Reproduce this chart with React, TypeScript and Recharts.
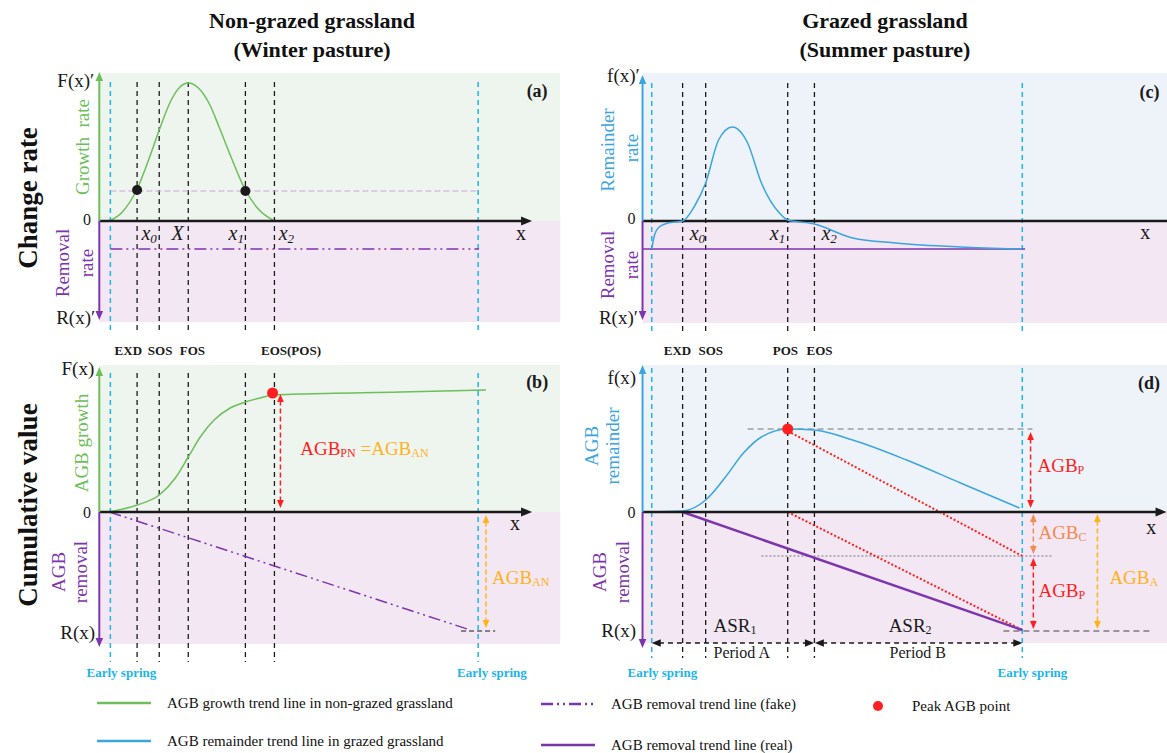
import React from 'react';
import {
  ComposedChart,
  Line,
  XAxis,
  YAxis,
  ReferenceArea,
  ReferenceLine,
  ReferenceDot,
} from 'recharts';

const SERIF = "'Times New Roman', 'Liberation Serif', 'DejaVu Serif', serif";

const GREEN = '#6cbf5a';
const BLUE = '#3aa5de';
const PURPLE = '#7d35ad';
const CYAN = '#1cb5ec';
const RED = '#ff1f1f';
const GOLD = '#ffb21c';
const CORAL = '#f5894f';
const INK = '#1a1a1a';
const BG_GREEN = '#eef4ee';
const BG_BLUE = '#edf3f9';
const BG_PURPLE = '#f3e7f3';

// season axis (0 = start of the season axis), dates of the phenological events
const winterSpring = [2.4, 82.2];
const winterDates = [8.2, 13.0, 19.3, 31.7, 38.0];
const summerSpring = [2.0, 82.4];
const summerDates = [8.7, 13.7, 31.5, 37.3];

const winterPhenology = ['EXD', 'SOS', 'FOS', 'EOS(POS)'];
const winterPhenologyAt = [6.3, 13.2, 20.2, 41.6];
const summerPhenology = ['EXD', 'SOS', 'POS', 'EOS'];
const summerPhenologyAt = [7.6, 14.8, 31.0, 38.4];

const winterRoots = [['x', '0'], ['X', ''], ['x', '1'], ['x', '2']];
const winterRootsAt = [10.8, 17.0, 29.7, 40.6];
const summerRoots = [['x', '0'], ['x', '1'], ['x', '2']];
const summerRootsAt = [11.9, 29.3, 40.5];

// (a) change rate, non-grazed
const growthRate = [
  { x: 2.2, y: 0 }, { x: 5, y: 0.9 }, { x: 8.2, y: 3.2 }, { x: 11, y: 6.5 },
  { x: 13, y: 9.1 }, { x: 15.5, y: 12.0 }, { x: 17.5, y: 13.4 }, { x: 19.3, y: 13.8 },
  { x: 21.5, y: 13.3 }, { x: 24, y: 11.6 }, { x: 26, y: 9.4 }, { x: 28.5, y: 6.5 },
  { x: 31.7, y: 3.1 }, { x: 34.5, y: 1.2 }, { x: 38, y: 0 },
];
const removalRateFake = [{ x: 2.4, y: -2.8 }, { x: 82.4, y: -2.8 }];
const growthThreshold = 3.0;
const thresholdDots = [{ x: 8.2, y: 3.1 }, { x: 31.7, y: 3.0 }];

// (b) cumulative, non-grazed
const agbGrowth = [
  { x: 2.2, y: 0 }, { x: 8.2, y: 0.7 }, { x: 13, y: 1.7 }, { x: 16.5, y: 3.4 },
  { x: 19.3, y: 5.5 }, { x: 21.9, y: 7.5 }, { x: 24.9, y: 9.2 }, { x: 28.4, y: 10.4 },
  { x: 31.7, y: 11.0 }, { x: 34.9, y: 11.4 }, { x: 37.7, y: 11.7 }, { x: 43.6, y: 11.8 },
  { x: 65.3, y: 12.0 }, { x: 83.9, y: 12.2 },
];
const agbRemovalFake = [{ x: 2.2, y: 0 }, { x: 80.5, y: -11.8 }];
const peakWinter = [{ x: 37.6, y: 11.9 }];

// (c) change rate, grazed
const remainderRate = [
  { x: 2.0, y: -2.8 }, { x: 2.6, y: -1.4 }, { x: 3.6, y: -0.6 }, { x: 5.2, y: -0.25 },
  { x: 7.0, y: -0.1 }, { x: 8.7, y: 0 }, { x: 11.3, y: 1.5 }, { x: 13.7, y: 3.8 },
  { x: 16.5, y: 8.1 }, { x: 19.5, y: 9.4 }, { x: 22.8, y: 7.8 }, { x: 25.8, y: 3.8 },
  { x: 29.7, y: 0.8 }, { x: 31.5, y: 0.1 }, { x: 37.3, y: -0.3 }, { x: 45.6, y: -1.7 },
  { x: 54.9, y: -2.2 }, { x: 69.0, y: -2.6 }, { x: 82.4, y: -2.8 },
];
const removalRateReal = [{ x: 0, y: -2.8 }, { x: 83.0, y: -2.8 }];

// (d) cumulative, grazed
const agbRemainder = [
  { x: 2.0, y: 0 }, { x: 8.7, y: 0.1 }, { x: 13.7, y: 1.2 }, { x: 18.0, y: 3.5 },
  { x: 21.9, y: 5.9 }, { x: 25.8, y: 7.5 }, { x: 31.5, y: 8.3 }, { x: 37.3, y: 8.2 },
  { x: 45.6, y: 7.2 }, { x: 57.3, y: 5.2 }, { x: 69.0, y: 2.9 }, { x: 81.8, y: 0.4 },
];
const agbRemovalReal = [{ x: 8.7, y: 0 }, { x: 82.4, y: -11.8 }];
const peakSummer = [{ x: 31.5, y: 8.3 }];
const carryOverLevel = -4.4;
const removalEnd = -11.8;

const TOP = { top: 61, height: 300, y: [-14, 16] };
const BOTTOM = { top: 352, height: 330, y: [-17, 16] };
const LEFT = { left: 44, width: 530, x: [-12, 103] };
const RIGHT = { left: 578, width: 589, x: [-14, 113.8] };

const headPoints = (tx: number, ty: number, fx: number, fy: number, size: number) => {
  const a = Math.atan2(ty - fy, tx - fx);
  const bx = tx - size * Math.cos(a);
  const by = ty - size * Math.sin(a);
  const nx = -Math.sin(a) * size * 0.42;
  const ny = Math.cos(a) * size * 0.42;
  return `${tx},${ty} ${bx + nx},${by + ny} ${bx - nx},${by - ny}`;
};

type ArrowOpts = { color: string; width?: number; dash?: string; both?: boolean; size?: number; noHead?: boolean };

const arrowShape = ({ color, width = 1.5, dash, both, size = 8, noHead }: ArrowOpts) => (p: any) => {
  const { x1, y1, x2, y2 } = p;
  const len = Math.hypot(x2 - x1, y2 - y1) || 1;
  const ux = (x2 - x1) / len;
  const uy = (y2 - y1) / len;
  const t = noHead ? 0 : size * 0.8;
  const sx = both ? x1 + ux * t : x1;
  const sy = both ? y1 + uy * t : y1;
  return (
    <g>
      <line x1={sx} y1={sy} x2={x2 - ux * t} y2={y2 - uy * t} stroke={color} strokeWidth={width} strokeDasharray={dash} />
      {!noHead && <polygon points={headPoints(x2, y2, x1, y1, size)} fill={color} />}
      {both && <polygon points={headPoints(x1, y1, x2, y2, size)} fill={color} />}
    </g>
  );
};

type TextOpts = { size?: number; color?: string; bold?: boolean; italic?: boolean; anchor?: 'start' | 'middle' | 'end'; rotate?: boolean };

const textShape = (content: React.ReactNode, o: TextOpts) => (p: any) => (
  <text
    x={p.cx}
    y={p.cy}
    fontFamily={SERIF}
    fontSize={o.size ?? 19}
    fill={o.color ?? INK}
    fontWeight={o.bold ? 700 : 400}
    fontStyle={o.italic ? 'italic' : 'normal'}
    textAnchor={o.anchor ?? 'middle'}
    dominantBaseline="central"
    transform={o.rotate ? `rotate(-90 ${p.cx} ${p.cy})` : undefined}
  >
    {content}
  </text>
);

const note = (key: string, x: number, y: number, content: React.ReactNode, o: TextOpts = {}) => (
  <ReferenceDot key={key} x={x} y={y} r={0} shape={textShape(content, o)} />
);

const sub = (main: string, s: string, color: string, small = 12) => [
  <tspan key="m" fill={color}>{main}</tspan>,
  <tspan key="s" fill={color} fontSize={small} dy={5}>{s}</tspan>,
];

const arrow = (key: string, x1: number, y1: number, x2: number, y2: number, o: ArrowOpts) => (
  <ReferenceLine key={key} segment={[{ x: x1, y: y1 }, { x: x2, y: y2 }]} shape={arrowShape(o)} />
);

const seg = (key: string, x1: number, y1: number, x2: number, y2: number, stroke: string, dash?: string, width = 1.5) => (
  <ReferenceLine key={key} segment={[{ x: x1, y: y1 }, { x: x2, y: y2 }]} stroke={stroke} strokeDasharray={dash} strokeWidth={width} />
);

const guides = (prefix: string, spring: number[], dates: number[], top: number, bottom: number) => [
  ...spring.map((x, i) => seg(`${prefix}s${i}`, x, top, x, bottom, CYAN, '5 4', 1.5)),
  ...dates.map((x, i) => seg(`${prefix}d${i}`, x, top, x, bottom, INK, '5 4', 1.3)),
];

const curve = (key: string, data: { x: number; y: number }[], stroke: string, width = 1.5, dash?: string, type: 'monotone' | 'linear' = 'monotone') => (
  <Line
    key={key}
    data={data}
    dataKey="y"
    type={type}
    stroke={stroke}
    strokeWidth={width}
    strokeDasharray={dash}
    dot={false}
    activeDot={false}
    isAnimationActive={false}
  />
);

function Panel({ row, col, children }: { row: typeof TOP; col: typeof LEFT; children: React.ReactNode }) {
  return (
    <div style={{ position: 'absolute', left: col.left, top: row.top }}>
      <ComposedChart width={col.width} height={row.height} margin={{ top: 0, right: 0, bottom: 0, left: 0 }}>
        <XAxis type="number" dataKey="x" domain={col.x} hide allowDataOverflow />
        <YAxis type="number" dataKey="y" domain={row.y} hide allowDataOverflow />
        {children}
      </ComposedChart>
    </div>
  );
}

const rootLabel = (r: string[]) => [
  <tspan key="a">{r[0]}</tspan>,
  <tspan key="b" fontSize={13} dy={5}>{r[1]}</tspan>,
];

function LegendItem({ left, top, swatch, label }: { left: number; top: number; swatch: React.ReactNode; label: string }) {
  return (
    <div style={{ position: 'absolute', left, top: top - 10, height: 20, display: 'flex', alignItems: 'center' }}>
      {swatch}
      <span style={{ fontFamily: SERIF, fontSize: 15, color: '#111', whiteSpace: 'nowrap', marginLeft: 16 }}>{label}</span>
    </div>
  );
}

const lineSwatch = (color: string, dash?: string, width = 2.5) => (
  <svg width={54} height={10}>
    <line x1={0} y1={5} x2={54} y2={5} stroke={color} strokeWidth={width} strokeDasharray={dash} />
  </svg>
);

const centered = (x: number, y: number, text: string, style: React.CSSProperties, rotate = false) => (
  <div
    style={{
      position: 'absolute',
      left: x,
      top: y,
      transform: `translate(-50%, -50%)${rotate ? ' rotate(-90deg)' : ''}`,
      whiteSpace: 'nowrap',
      fontFamily: SERIF,
      ...style,
    }}
  >
    {text}
  </div>
);

export default function App() {
  const title = { fontSize: 22, fontWeight: 700, color: '#111' };
  const rowLabel = { fontSize: 27, fontWeight: 700, color: '#111' };
  return (
    <div style={{ position: 'absolute', left: 0, top: 0, width: 1167, height: 753, background: '#fff', overflow: 'hidden' }}>
      {centered(312, 21, 'Non-grazed grassland', title)}
      {centered(312, 50, '(Winter pasture)', title)}
      {centered(885, 21, 'Grazed grassland', title)}
      {centered(885, 50, '(Summer pasture)', title)}
      {centered(28, 198, 'Change rate', rowLabel, true)}
      {centered(28, 505, 'Cumulative value', rowLabel, true)}

      {/* (a) */}
      <Panel row={TOP} col={LEFT}>
        <ReferenceArea x1={0} x2={100} y1={0} y2={14.8} fill={BG_GREEN} fillOpacity={1} stroke="none" />
        <ReferenceArea x1={0} x2={100} y1={-10.1} y2={0} fill={BG_PURPLE} fillOpacity={1} stroke="none" />
        {guides('a', winterSpring, winterDates, 13.9, -11.1)}
        {seg('thr', winterSpring[0], growthThreshold, winterSpring[1], growthThreshold, '#c9a3dc', '6 3', 1.2)}
        {curve('gr', growthRate, GREEN)}
        {curve('rf', removalRateFake, PURPLE, 1.5, '12 4 2 4 2 4', 'linear')}
        {arrow('ax', 0, 0, 93.9, 0, { color: INK, width: 2.5, size: 11 })}
        {arrow('ay1', 0, 0, 0, 14.9, { color: GREEN, width: 2, size: 9 })}
        {arrow('ay2', 0, 0, 0, -9.9, { color: PURPLE, width: 2, size: 9 })}
        {thresholdDots.map((d, i) => (
          <ReferenceDot key={`td${i}`} x={d.x} y={d.y} r={5} fill={INK} stroke="none" />
        ))}
        {note('fx', -1.1, 14.1, 'F(x)′', { anchor: 'end' })}
        {note('z', -1.8, 0.2, '0', { anchor: 'end', size: 16 })}
        {note('rx', -0.9, -9.6, 'R(x)′', { anchor: 'end' })}
        {note('gl', -3.7, 7.4, 'Growth\u00a0\u00a0rate', { color: GREEN, rotate: true })}
        {note('rl1', -8.0, -4.2, 'Removal', { color: PURPLE, rotate: true })}
        {note('rl2', -2.8, -4.2, 'rate', { color: PURPLE, rotate: true })}
        {winterRoots.map((r, i) => note(`rt${i}`, winterRootsAt[i], -1.2, rootLabel(r), { italic: true, size: 20 }))}
        {note('xl', 91.5, -1.2, 'x', { size: 20 })}
        {note('pa', 95, 13.0, '(a)', { bold: true, size: 18 })}
        {winterPhenology.map((t, i) => note(`ph${i}`, winterPhenologyAt[i], -12.9, t, { bold: true, size: 13 }))}
      </Panel>

      {/* (b) */}
      <Panel row={BOTTOM} col={LEFT}>
        <ReferenceArea x1={0} x2={100} y1={0} y2={14.7} fill={BG_GREEN} fillOpacity={1} stroke="none" />
        <ReferenceArea x1={0} x2={100} y1={-13.2} y2={0} fill={BG_PURPLE} fillOpacity={1} stroke="none" />
        {guides('b', winterSpring, winterDates, 13.9, -15)}
        {curve('ag', agbGrowth, GREEN)}
        {curve('arf', agbRemovalFake, PURPLE, 1.5, '12 4 2 4 2 4', 'linear')}
        {seg('bl', 78.5, -11.9, 85.9, -11.9, INK, '5 3', 1)}
        {arrow('bx', 0, 0, 93.9, 0, { color: INK, width: 2.5, size: 11 })}
        {arrow('by1', 0, 0, 0, 14.5, { color: GREEN, width: 2, size: 9 })}
        {arrow('by2', 0, 0, 0, -13.5, { color: PURPLE, width: 2, size: 9 })}
        {arrow('pn', 39.3, 11.8, 39.3, 0.4, { color: RED, dash: '5 3', both: true, size: 8 })}
        {arrow('an', 83.9, -0.3, 83.9, -11.6, { color: GOLD, dash: '5 3', both: true, size: 8 })}
        {peakWinter.map((d, i) => (
          <ReferenceDot key={`pw${i}`} x={d.x} y={d.y} r={5.5} fill={RED} stroke="none" />
        ))}
        {note('fx', -1.1, 14.4, 'F(x)', { anchor: 'end' })}
        {note('z', -1.8, 0, '0', { anchor: 'end', size: 16 })}
        {note('rx', -0.9, -12.0, 'R(x)', { anchor: 'end' })}
        {note('gl', -3.9, 6.9, 'AGB growth', { color: GREEN, rotate: true })}
        {note('rl1', -8.9, -6.0, 'AGB', { color: PURPLE, rotate: true })}
        {note('rl2', -4.1, -6.0, 'removal', { color: PURPLE, rotate: true })}
        {note('xl', 90.2, -1.1, 'x', { size: 20 })}
        {note('pb', 95, 13.0, '(b)', { bold: true, size: 18 })}
        {note('eq', 43.6, 6.4, [
          ...sub('AGB', 'PN', RED),
          <tspan key="e" fill={GOLD} dy={-5}>{' ='}</tspan>,
          <tspan key="g" fill={GOLD}>AGB</tspan>,
          <tspan key="gs" fill={GOLD} fontSize={12} dy={5}>AN</tspan>,
        ], { anchor: 'start' })}
        {note('an2', 85.2, -6.5, sub('AGB', 'AN', GOLD), { anchor: 'start' })}
        {note('es1', 4.8, -16.0, 'Early spring', { bold: true, size: 13, color: CYAN })}
        {note('es2', 85.2, -16.0, 'Early spring', { bold: true, size: 13, color: CYAN })}
      </Panel>

      {/* (c) */}
      <Panel row={TOP} col={RIGHT}>
        <ReferenceArea x1={0} x2={113.8} y1={0} y2={14.8} fill={BG_BLUE} fillOpacity={1} stroke="none" />
        <ReferenceArea x1={0} x2={113.8} y1={-10.2} y2={0} fill={BG_PURPLE} fillOpacity={1} stroke="none" />
        {guides('c', summerSpring, summerDates, 13.8, -11.1)}
        {seg('cx', 0, 0, 113.8, 0, INK, undefined, 2.5)}
        {curve('rr', removalRateReal, PURPLE, 1.5, undefined, 'linear')}
        {curve('rem', remainderRate, BLUE)}
        {arrow('cy1', 0, 0, 0, 14.6, { color: BLUE, width: 2, size: 9 })}
        {arrow('cy2', 0, 0, 0, -9.9, { color: PURPLE, width: 2, size: 9 })}
        {note('fx', -0.6, 14.6, 'f(x)′', { anchor: 'end' })}
        {note('z', -1.5, 0.3, '0', { anchor: 'end', size: 16 })}
        {note('rx', -1.0, -9.6, 'R(x)′', { anchor: 'end' })}
        {note('gl1', -7.6, 7.1, 'Remainder', { color: BLUE, rotate: true })}
        {note('gl2', -2.4, 7.3, 'rate', { color: BLUE, rotate: true })}
        {note('rl1', -7.6, -4.4, 'Removal', { color: PURPLE, rotate: true })}
        {note('rl2', -2.4, -4.4, 'rate', { color: PURPLE, rotate: true })}
        {summerRoots.map((r, i) => note(`rt${i}`, summerRootsAt[i], -1.2, rootLabel(r), { italic: true, size: 20 }))}
        {note('xl', 109.1, -1.1, 'x', { size: 20 })}
        {note('pc', 110.0, 12.9, '(c)', { bold: true, size: 18 })}
        {summerPhenology.map((t, i) => note(`ph${i}`, summerPhenologyAt[i], -12.9, t, { bold: true, size: 13 }))}
      </Panel>

      {/* (d) */}
      <Panel row={BOTTOM} col={RIGHT}>
        <ReferenceArea x1={0} x2={113.8} y1={0} y2={14.7} fill={BG_BLUE} fillOpacity={1} stroke="none" />
        <ReferenceArea x1={0} x2={113.8} y1={-13.1} y2={0} fill={BG_PURPLE} fillOpacity={1} stroke="none" />
        {guides('d', summerSpring, summerDates, 14.4, -14.6)}
        {seg('pk', 22.8, peakSummer[0].y, 84.6, peakSummer[0].y, '#777', '6 4', 1.2)}
        {seg('co', 25.8, carryOverLevel, 88.9, carryOverLevel, '#777', '2 2', 1.2)}
        {seg('bl', 78.3, -11.9, 110.6, -11.9, '#444', '6 4', 1.2)}
        {seg('rd1', peakSummer[0].x, peakSummer[0].y - 0.2, summerSpring[1], carryOverLevel, RED, '2 2', 2)}
        {seg('rd2', peakSummer[0].x, 0, summerSpring[1], removalEnd, RED, '2 2', 2)}
        {curve('arr', agbRemovalReal, PURPLE, 2.5, undefined, 'linear')}
        {curve('rm', agbRemainder, BLUE)}
        {arrow('dx', 0, 0, 113.7, 0, { color: INK, width: 2.5, size: 11 })}
        {arrow('dy1', 0, 0, 0, 14.7, { color: BLUE, width: 2, size: 9 })}
        {arrow('dy2', 0, 0, 0, -13.6, { color: PURPLE, width: 2, size: 9 })}
        {arrow('p1', 84.2, 8.0, 84.2, 0.4, { color: RED, dash: '5 3', both: true, size: 8 })}
        {arrow('c1', 84.8, -0.2, 84.8, -4.2, { color: CORAL, dash: '5 3', both: true, size: 8 })}
        {arrow('p2', 84.8, -4.6, 84.8, -11.7, { color: RED, dash: '5 3', both: true, size: 8 })}
        {arrow('a1', 98.7, -0.2, 98.7, -11.7, { color: GOLD, dash: '5 3', both: true, size: 8 })}
        {arrow('pA', summerSpring[0], -13.1, summerDates[3] - 0.1, -13.1, { color: INK, dash: '5 4', both: true, size: 9, width: 1.3 })}
        {arrow('pB', summerDates[3] + 0.1, -13.1, summerSpring[1], -13.1, { color: INK, dash: '5 4', both: true, size: 9, width: 1.3 })}
        {peakSummer.map((d, i) => (
          <ReferenceDot key={`ps${i}`} x={d.x} y={d.y} r={5.5} fill={RED} stroke="none" />
        ))}
        {note('fx', -1.4, 13.5, 'f(x)', { anchor: 'end' })}
        {note('z', -1.5, 0, '0', { anchor: 'end', size: 16 })}
        {note('rx', -1.4, -11.8, 'R(x)', { anchor: 'end' })}
        {note('gl1', -11.1, 6.6, 'AGB', { color: BLUE, rotate: true })}
        {note('gl2', -6.5, 6.6, 'remainder', { color: BLUE, rotate: true })}
        {note('rl1', -9.3, -6.0, 'AGB', { color: PURPLE, rotate: true })}
        {note('rl2', -4.3, -6.0, 'removal', { color: PURPLE, rotate: true })}
        {note('xl', 110.4, -1.5, 'x', { size: 20 })}
        {note('pd', 109.9, 12.9, '(d)', { bold: true, size: 18 })}
        {note('lp1', 85.7, 4.7, sub('AGB', 'P', RED), { anchor: 'start' })}
        {note('lc', 85.9, -2.0, sub('AGB', 'C', CORAL), { anchor: 'start' })}
        {note('lp2', 85.9, -7.8, sub('AGB', 'P', RED), { anchor: 'start' })}
        {note('la', 101.3, -6.5, sub('AGB', 'A', GOLD), { anchor: 'start' })}
        {note('asr1', 15.4, -11.3, sub('ASR', '1', INK), { anchor: 'start' })}
        {note('asr2', 53.4, -11.3, sub('ASR', '2', INK), { anchor: 'start' })}
        {note('pa', 15.4, -14.0, 'Period A', { anchor: 'start', size: 16 })}
        {note('pb', 53.6, -14.0, 'Period B', { anchor: 'start', size: 16 })}
        {note('es1', 4.3, -16.0, 'Early spring', { bold: true, size: 13, color: CYAN })}
        {note('es2', 84.6, -16.0, 'Early spring', { bold: true, size: 13, color: CYAN })}
      </Panel>

      <LegendItem left={97} top={703} swatch={lineSwatch(GREEN)} label="AGB growth trend line in non-grazed grassland" />
      <LegendItem left={97} top={741} swatch={lineSwatch(BLUE)} label="AGB remainder trend line in grazed grassland" />
      <LegendItem left={541} top={704} swatch={lineSwatch(PURPLE, '12 4 2 4 2 4')} label="AGB removal trend line (fake)" />
      <LegendItem left={541} top={745} swatch={lineSwatch(PURPLE)} label="AGB removal trend line (real)" />
      <LegendItem
        left={860}
        top={706}
        swatch={
          <svg width={36} height={12}>
            <circle cx={18} cy={6} r={5} fill={RED} />
          </svg>
        }
        label="Peak AGB point"
      />
    </div>
  );
}
